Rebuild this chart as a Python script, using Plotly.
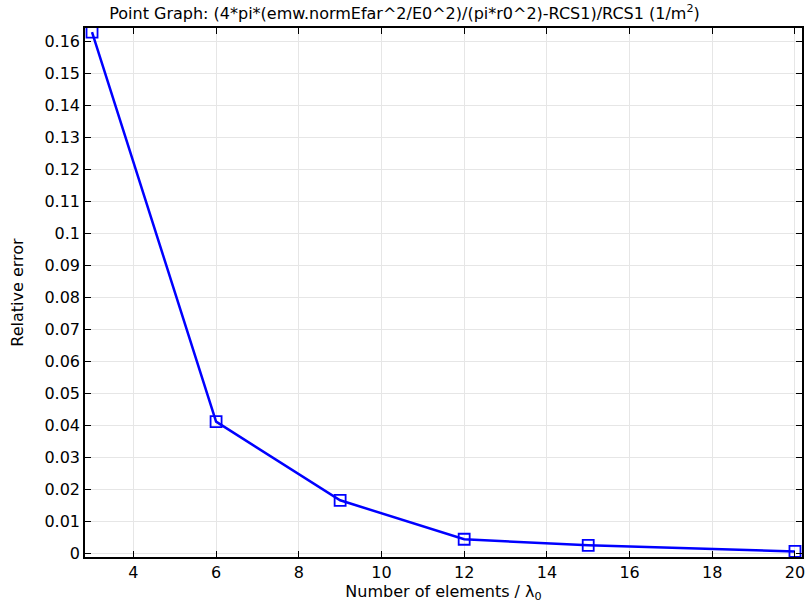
import plotly.graph_objects as go

x_vals = [3, 6, 9, 12, 15, 20]
y_vals = [0.163, 0.0411, 0.0165, 0.0043, 0.0024, 0.0005]

y_ticks = [i / 100 for i in range(0, 17)]
y_labels = ["0", "0.01", "0.02", "0.03", "0.04", "0.05", "0.06", "0.07", "0.08",
            "0.09", "0.1", "0.11", "0.12", "0.13", "0.14", "0.15", "0.16"]
x_ticks = [4, 6, 8, 10, 12, 14, 16, 18, 20]

FONT = "DejaVu Sans"
FS = 16

fig = go.Figure()
fig.add_trace(go.Scatter(
    x=x_vals, y=y_vals, mode="lines+markers",
    line=dict(color="#0000ff", width=2.5),
    marker=dict(symbol="square-open", size=11, color="#0000ff", line=dict(width=1.8)),
    showlegend=False,
))

axis_common = dict(
    showline=True, linecolor="black", linewidth=1.5, mirror="ticks",
    ticks="inside", ticklen=6, tickcolor="black", tickwidth=1.2,
    showgrid=True, gridcolor="#e6e6e6", gridwidth=1, zeroline=False,
    tickfont=dict(family=FONT, size=FS, color="black"),
)

fig.update_layout(
    width=809, height=604,
    margin=dict(l=85, r=4, t=28, b=47),
    paper_bgcolor="white", plot_bgcolor="white",
    font=dict(family=FONT, size=FS, color="black"),
    title=dict(
        text="Point Graph: (4*pi*(emw.normEfar^2/E0^2)/(pi*r0^2)-RCS1)/RCS1 (1/m<sup>2</sup>)",
        x=0.5, xanchor="center", y=0.987, yanchor="top",
        font=dict(family=FONT, size=FS, color="black"),
    ),
    xaxis=dict(range=[2.83, 20.17], tickvals=x_ticks,
               title=dict(text="Number of elements / λ<sub>0</sub>", standoff=2,
                          font=dict(family=FONT, size=FS)),
               **axis_common),
    yaxis=dict(range=[-0.00125, 0.1643], tickvals=y_ticks, ticktext=y_labels,
               title=dict(text="Relative error", standoff=17,
                          font=dict(family=FONT, size=FS)),
               **axis_common),
)

fig.write_html("out.html")
